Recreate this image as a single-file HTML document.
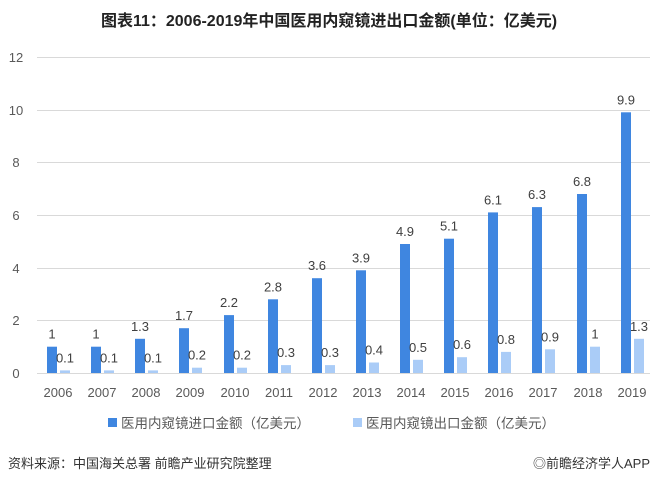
<!DOCTYPE html>
<html><head><meta charset="utf-8"><style>
body{margin:0;background:#fff;}
svg text{font-family:"Liberation Sans","Noto Sans CJK SC",sans-serif;}
</style></head><body>
<svg width="658" height="485" xmlns="http://www.w3.org/2000/svg">
<rect width="658" height="485" fill="#fff"/>
<text x="329" y="26" text-anchor="middle" font-size="16" font-weight="bold" fill="#222">图表11：2006-2019年中国医用内窥镜进出口金额(单位：亿美元)</text>
<g stroke="#d9d9d9" stroke-width="1">
<line x1="37" x2="650" y1="57.5" y2="57.5"/><line x1="37" x2="650" y1="110.5" y2="110.5"/>
<line x1="37" x2="650" y1="162.5" y2="162.5"/><line x1="37" x2="650" y1="215.5" y2="215.5"/>
<line x1="37" x2="650" y1="268.5" y2="268.5"/><line x1="37" x2="650" y1="320.5" y2="320.5"/>
<line x1="37" x2="650" y1="373.5" y2="373.5"/>
</g>
<g font-size="13" fill="#595959" text-anchor="middle">
<text x="16" y="62">12</text><text x="16" y="115">10</text><text x="16" y="167">8</text>
<text x="16" y="220">6</text><text x="16" y="273">4</text><text x="16" y="325">2</text><text x="16" y="378">0</text>
</g>
<g fill="#3f86e0">
<rect x="47" y="346.7" width="10" height="26.3"/>
<rect x="91" y="346.7" width="10" height="26.3"/>
<rect x="135" y="338.8" width="10" height="34.2"/>
<rect x="179" y="328.2" width="10" height="44.8"/>
<rect x="224" y="315.1" width="10" height="57.9"/>
<rect x="268" y="299.3" width="10" height="73.7"/>
<rect x="312" y="278.2" width="10" height="94.8"/>
<rect x="356" y="270.3" width="10" height="102.7"/>
<rect x="400" y="244" width="10" height="129"/>
<rect x="444" y="238.7" width="10" height="134.3"/>
<rect x="488" y="212.4" width="10" height="160.6"/>
<rect x="532" y="207.1" width="10" height="165.9"/>
<rect x="577" y="194" width="10" height="179"/>
<rect x="621" y="112.3" width="10" height="260.7"/>
</g>
<g fill="#aaccf7">
<rect x="60" y="370.4" width="10" height="2.6"/>
<rect x="104" y="370.4" width="10" height="2.6"/>
<rect x="148" y="370.4" width="10" height="2.6"/>
<rect x="192" y="367.7" width="10" height="5.3"/>
<rect x="237" y="367.7" width="10" height="5.3"/>
<rect x="281" y="365.1" width="10" height="7.9"/>
<rect x="325" y="365.1" width="10" height="7.9"/>
<rect x="369" y="362.5" width="10" height="10.5"/>
<rect x="413" y="359.8" width="10" height="13.2"/>
<rect x="457" y="357.2" width="10" height="15.8"/>
<rect x="501" y="351.9" width="10" height="21.1"/>
<rect x="545" y="349.3" width="10" height="23.7"/>
<rect x="590" y="346.7" width="10" height="26.3"/>
<rect x="634" y="338.8" width="10" height="34.2"/>
</g>
<g font-size="13" fill="#404040" text-anchor="middle">
<text x="52" y="338.7">1</text><text x="96" y="338.7">1</text><text x="140" y="330.8">1.3</text>
<text x="184" y="320.2">1.7</text><text x="229" y="307.1">2.2</text><text x="273" y="291.3">2.8</text>
<text x="317" y="270.2">3.6</text><text x="361" y="262.3">3.9</text><text x="405" y="236">4.9</text>
<text x="449" y="230.7">5.1</text><text x="493" y="204.4">6.1</text><text x="537" y="199.1">6.3</text>
<text x="582" y="186">6.8</text><text x="626" y="104.3">9.9</text>
<text x="65" y="362.4">0.1</text><text x="109" y="362.4">0.1</text><text x="153" y="362.4">0.1</text>
<text x="197" y="359.7">0.2</text><text x="242" y="359.7">0.2</text><text x="286" y="357.1">0.3</text>
<text x="330" y="357.1">0.3</text><text x="374" y="354.5">0.4</text><text x="418" y="351.8">0.5</text>
<text x="462" y="349.2">0.6</text><text x="506" y="343.9">0.8</text><text x="550" y="341.3">0.9</text>
<text x="595" y="338.7">1</text><text x="639" y="330.8">1.3</text>
</g>
<g font-size="13" fill="#595959" text-anchor="middle">
<text x="58" y="397">2006</text><text x="102" y="397">2007</text><text x="146" y="397">2008</text>
<text x="190" y="397">2009</text><text x="235" y="397">2010</text><text x="279" y="397">2011</text>
<text x="323" y="397">2012</text><text x="367" y="397">2013</text><text x="411" y="397">2014</text>
<text x="455" y="397">2015</text><text x="499" y="397">2016</text><text x="543" y="397">2017</text>
<text x="588" y="397">2018</text><text x="632" y="397">2019</text>
</g>
<rect x="108" y="418" width="9" height="9" fill="#3f86e0"/>
<text x="121" y="428" font-size="13.5" fill="#595959">医用内窥镜进口金额（亿美元）</text>
<rect x="353" y="418" width="9" height="9" fill="#aaccf7"/>
<text x="366" y="428" font-size="13.5" fill="#595959">医用内窥镜出口金额（亿美元）</text>
<text x="8" y="468" font-size="13" fill="#333">资料来源：中国海关总署 前瞻产业研究院整理</text>
<text x="650" y="468" font-size="13" fill="#333" text-anchor="end">◎前瞻经济学人APP</text>
</svg>
</body></html>
